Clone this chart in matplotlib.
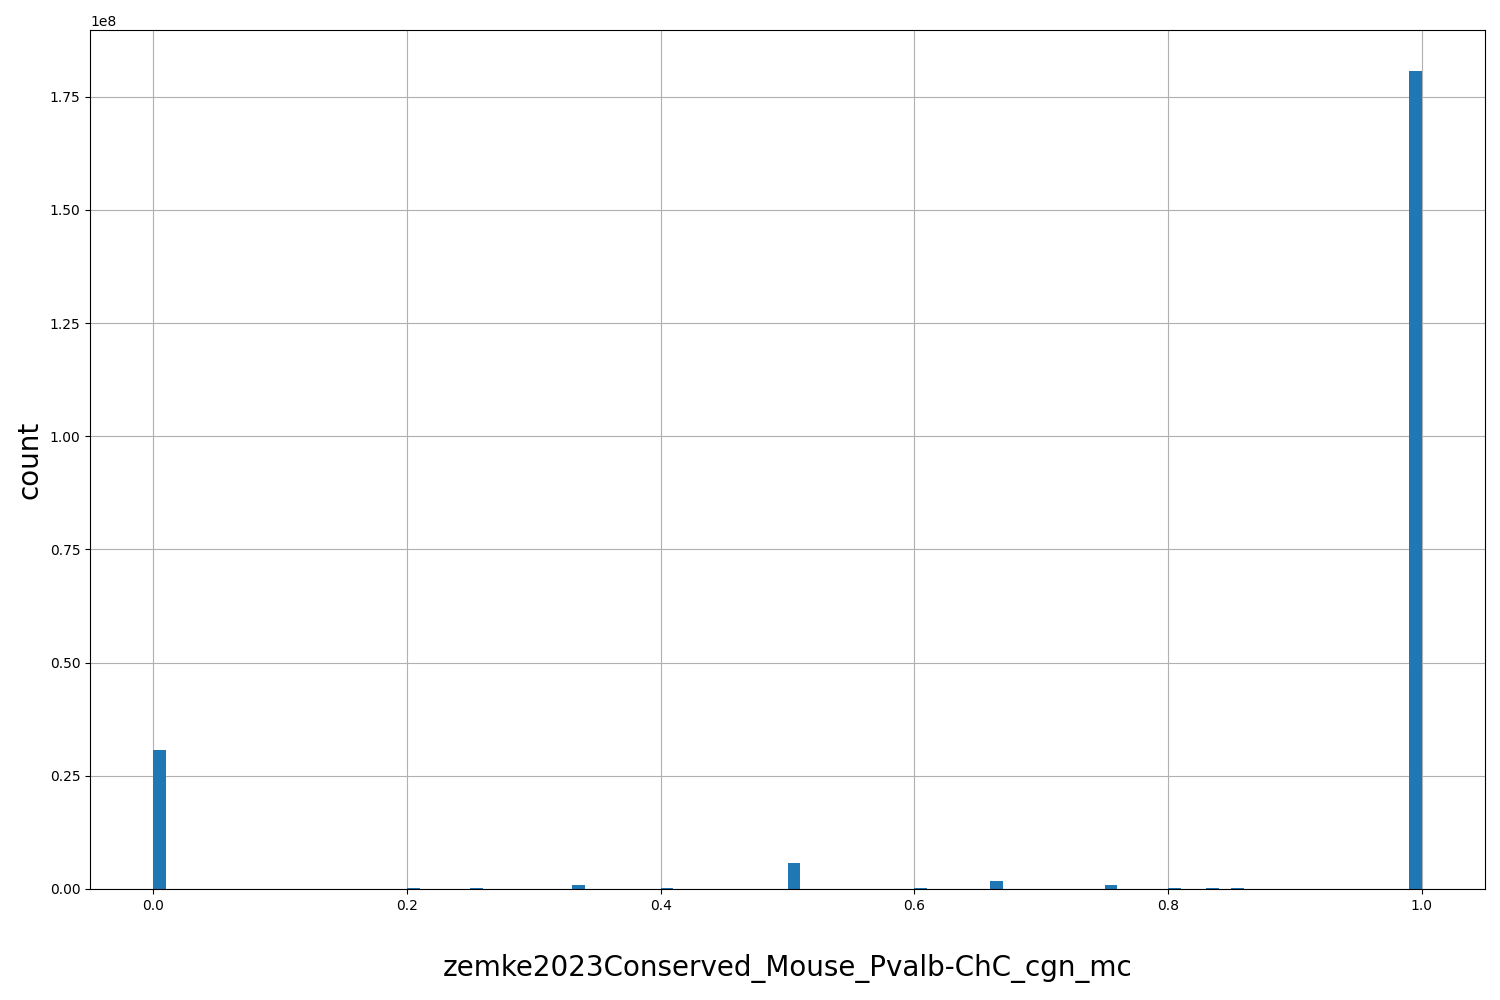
import numpy as np
import matplotlib
matplotlib.use("Agg")
import matplotlib.pyplot as plt

# histogram bins (left edges) that hold data, and their counts
bin_left = [0.00, 0.20, 0.25, 0.33, 0.40, 0.50, 0.60, 0.66, 0.75, 0.80, 0.83, 0.85, 0.99]
counts = [3.07e7, 3.0e5, 3.0e5, 9.5e5, 3.0e5, 5.75e6, 3.0e5, 1.77e6, 9.0e5, 3.0e5, 3.0e5, 3.0e5, 1.807e8]

bins = np.linspace(0, 1, 101)
centers = np.array(bin_left) + 0.005

fig, ax = plt.subplots(figsize=(15, 10), dpi=100)
ax.hist(centers, bins=bins, weights=counts, color="#1f77b4")
ax.grid(True)
ax.set_axisbelow(True)
ax.set_xlabel("zemke2023Conserved_Mouse_Pvalb-ChC_cgn_mc", fontsize=20, labelpad=30)
ax.set_ylabel("count", fontsize=20)

plt.subplots_adjust(left=0.06, right=0.99, top=0.97, bottom=0.111)
plt.savefig("out.png")
